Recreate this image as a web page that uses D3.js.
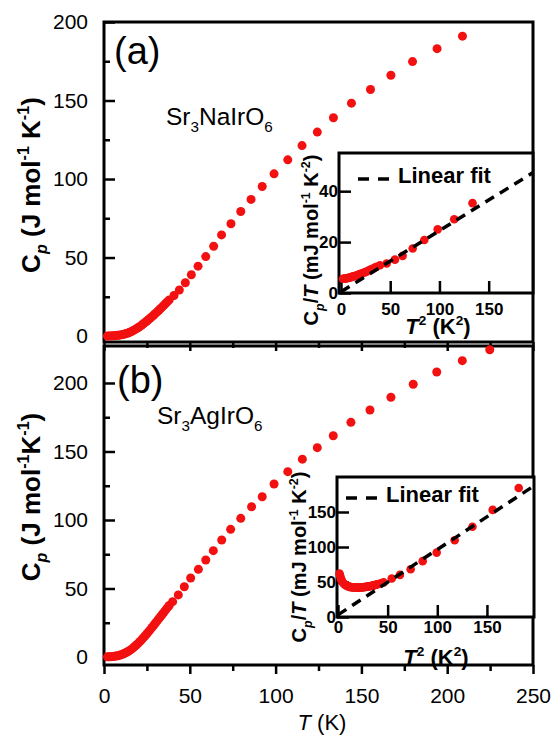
<!DOCTYPE html>
<html>
<head>
<meta charset="utf-8">
<script src="https://cdn.jsdelivr.net/npm/d3@7"></script>
<style>
body { margin: 0; background: #fff; }
svg { display: block; font-family: "Liberation Sans", Arial, sans-serif; }
text { white-space: pre; }
</style>
</head>
<body>
<div id="chart"></div>
<script>
// (a) Sr3NaIrO6: Cp (J mol-1 K-1) tegen T (K)
const tempA = [2, 3, 4, 5, 6, 7, 8, 9, 10, 11, 12, 13, 14, 15, 16, 17, 18, 19, 20, 21, 22, 23, 24, 25, 26, 27, 28, 29, 30, 31, 32, 33, 34, 35, 36, 37, 38,
    40.8, 43.9, 47.4, 50.9, 54.8, 59.3, 63.9, 68.5, 74.0, 79.7, 85.7, 92.2, 99.1, 107.1, 115.4, 124.3, 133.7, 144.2, 155.3, 167.2, 179.8, 194.1, 208.9]
const cpA = [0.03, 0.06, 0.1, 0.15, 0.22, 0.3, 0.42, 0.57, 0.76, 0.98, 1.25, 1.57, 1.95, 2.4, 2.9, 3.45, 4.05, 4.7, 5.4, 6.15, 6.95, 7.8, 8.7, 9.6, 10.5, 11.45, 12.4, 13.4, 14.4, 15.4, 16.45, 17.5, 18.6, 19.7, 20.8, 21.9, 23.0,
    25.8, 29.3, 33.9, 39.0, 44.5, 50.6, 57.2, 64.4, 71.5, 79.3, 87.0, 95.2, 103.3, 112.2, 121.3, 129.9, 139.0, 148.3, 157.0, 166.1, 174.8, 183.0, 191.0]

// (b) Sr3AgIrO6
const tempB = [2, 3, 4, 5, 6, 7, 8, 9, 10, 11, 12, 13, 14, 15, 16, 17, 18, 19, 20, 21, 22, 23, 24, 25, 26, 27, 28, 29, 30, 31, 32, 33, 34, 35, 36, 37, 38,
    40.0, 43.3, 46.8, 50.5, 55.0, 59.3, 63.7, 68.6, 73.8, 79.7, 86.0, 92.2, 99.1, 107.1, 115.6, 124.3, 133.6, 143.9, 155.0, 167.2, 180.2, 193.9, 208.8, 224.8]
const cpB = [0.1, 0.15, 0.25, 0.35, 0.5, 0.7, 0.95, 1.25, 1.65, 2.1, 2.65, 3.3, 4.0, 4.8, 5.7, 6.7, 7.8, 8.9, 10.1, 11.4, 12.7, 14.1, 15.5, 17.0, 18.5, 20.0, 21.6, 23.2, 24.8, 26.4, 28.0, 29.6, 31.2, 32.8, 34.4, 36.0, 37.6,
    40.4, 45.3, 51.3, 57.7, 64.0, 70.8, 77.6, 85.4, 93.2, 101.2, 109.7, 117.0, 126.3, 135.3, 144.4, 152.8, 161.5, 171.3, 180.3, 189.6, 199.1, 208.0, 216.3, 224.3]

// insets: Cp/T (mJ mol-1 K-2) tegen T^2 (K^2)
const t2A = [2, 3, 4, 5, 6, 7, 8, 9, 10, 11, 12, 13, 14, 15, 16, 17, 18, 19, 20, 22, 24, 26, 28, 30, 32, 34, 36,
    39.6, 46.4, 54.8, 62.6, 72.8, 84.6, 98.2, 115.0, 133.6]
const cpTA = [5.6, 5.6, 5.7, 5.7, 5.8, 5.9, 6.0, 6.1, 6.2, 6.35, 6.5, 6.6, 6.7, 6.8, 6.9, 7.05, 7.2, 7.35, 7.5, 7.8, 8.1, 8.4, 8.8, 9.2, 9.5, 9.9, 10.3,
    10.9, 11.6, 13.1, 14.6, 17.5, 20.8, 25.0, 29.0, 35.3]
const fitA = [[0, 0.5], [195, 47.3]]

const t2B = [1.5, 2, 2.5, 3, 3.5, 4, 5, 6, 7, 8, 9, 10, 11, 12, 13, 14, 15, 16, 17, 18, 19, 20, 21, 22, 23, 24, 25, 26, 27, 28, 29, 30, 31, 32, 33, 34, 35, 36, 37, 38, 39, 40, 42, 44, 46,
    54.1, 62.4, 73.2, 85.3, 99.4, 117.5, 135.4, 155.8, 182.0]
const cpTB = [62, 60, 57, 54.5, 52.5, 51, 49, 47.5, 46.3, 45.3, 44.5, 43.9, 43.4, 43, 42.7, 42.5, 42.3, 42.2, 42.1, 42, 42, 42, 42, 42.1, 42.2, 42.3, 42.4, 42.6, 42.8, 43, 43.2, 43.4, 43.7, 44, 44.3, 44.6, 44.9, 45.2, 45.6, 46.0, 46.4, 46.8, 47.6, 48.5, 49.4,
    55.0, 60.2, 68.3, 79.8, 92.0, 109.7, 129.0, 153.0, 184.3]
const fitB = [[0, 3], [197, 187]]

// ticks
const xTicksMain = [0, 50, 100, 150, 200, 250]
const xMinorMain = [25, 75, 125, 175, 225]
const yTicksMain = [0, 50, 100, 150, 200]
const yMinorMain = [25, 75, 125, 175]
const xTicksInset = [0, 50, 100, 150]
const yTicksInsetA = [0, 20, 40]
const yTicksInsetB = [0, 50, 100, 150]

const width = 552
const height = 740
const red = '#f21010'

const svg = d3.select('#chart').append('svg')
    .attr('width', width)
    .attr('height', height)

// tekst met sub/superscript
function richText(t, parts, size) {
    let shift = 0
    parts.forEach(p => {
        const target = p.sup ? -0.42 * size : p.sub ? 0.28 * size : 0
        const ts = t.append('tspan').attr('dy', target - shift).text(p.t)
        if (p.sup || p.sub) ts.attr('font-size', size * 0.62)
        if (p.it) ts.attr('font-style', 'italic')
        shift = target
    })
    return t
}

const xScale = d3.scaleLinear().domain([0, 250]).range([104, 533])

function styleAxis(g, bold, size) {
    g.select('.domain').remove()
    g.selectAll('line').attr('stroke', '#000').attr('stroke-width', 2.5)
    g.selectAll('text').attr('fill', '#000').attr('font-size', size)
        .attr('font-family', '"Liberation Sans", Arial, sans-serif')
        .attr('font-weight', bold ? 'bold' : 'normal')
}

function drawPanel(p) {
    const yScale = d3.scaleLinear().domain(p.yDomain).range([p.bottom, p.top])
    const g = svg.append('g')

    g.append('rect')
        .attr('x', xScale.range()[0]).attr('y', p.top)
        .attr('width', xScale.range()[1] - xScale.range()[0])
        .attr('height', p.bottom - p.top)
        .attr('fill', 'none').attr('stroke', '#000').attr('stroke-width', 3)

    // y as, ticks naar binnen
    g.append('g').attr('transform', `translate(${xScale.range()[0]},0)`)
        .call(d3.axisLeft(yScale).tickValues(yTicksMain).tickSize(-11).tickPadding(16))
        .call(a => styleAxis(a, false, 21))
    g.append('g').attr('transform', `translate(${xScale.range()[0]},0)`)
        .call(d3.axisLeft(yScale).tickValues(yMinorMain).tickSize(-6).tickFormat(''))
        .call(a => styleAxis(a, false, 21))

    // x as, ticks naar buiten
    const xAxis = d3.axisBottom(xScale).tickValues(xTicksMain).tickSize(9).tickPadding(14)
    if (!p.xLabels) xAxis.tickFormat('')
    g.append('g').attr('transform', `translate(0,${p.bottom})`)
        .call(xAxis)
        .call(a => styleAxis(a, false, 21))
    g.append('g').attr('transform', `translate(0,${p.bottom})`)
        .call(d3.axisBottom(xScale).tickValues(xMinorMain).tickSize(6).tickFormat(''))
        .call(a => styleAxis(a, false, 21))

    // punten
    g.append('g').selectAll('circle')
        .data(p.xs.map((x, i) => [x, p.ys[i]]))
        .enter()
        .append('circle')
        .attr('cx', d => xScale(d[0]))
        .attr('cy', d => yScale(d[1]))
        .attr('r', 4.5)
        .attr('fill', red)

    // y label
    richText(g.append('text')
        .attr('transform', `translate(40,${p.yLabelY}) rotate(-90)`)
        .attr('text-anchor', 'middle')
        .attr('font-size', 26).attr('font-weight', 'bold'), p.yLabel, 26)

    g.append('text').attr('x', p.letterX).attr('y', p.letterY)
        .attr('font-size', 38).text(p.letter)

    richText(g.append('text').attr('x', p.nameX).attr('y', p.nameY)
        .attr('font-size', 24.5), p.name, 24.5)

    drawInset(p.inset)
}

function drawInset(s) {
    const x = d3.scaleLinear().domain(s.xDomain).range([s.left, s.right])
    const y = d3.scaleLinear().domain(s.yDomain).range([s.bottom, s.top])
    const g = svg.append('g')

    g.append('rect')
        .attr('x', s.left).attr('y', s.top)
        .attr('width', s.right - s.left).attr('height', s.bottom - s.top)
        .attr('fill', '#fff').attr('stroke', '#000').attr('stroke-width', 3)

    g.append('g').attr('transform', `translate(0,${s.bottom})`)
        .call(d3.axisBottom(x).tickValues(xTicksInset).tickSize(-12).tickPadding(s.xPad))
        .call(a => styleAxis(a, true, 17))
    g.append('g').attr('transform', `translate(${s.left},0)`)
        .call(d3.axisLeft(y).tickValues(s.yTicks).tickSize(-12).tickPadding(1))
        .call(a => styleAxis(a, true, 17))

    g.append('g').selectAll('circle')
        .data(s.xs.map((v, i) => [v, s.ys[i]]))
        .enter()
        .append('circle')
        .attr('cx', d => x(d[0]))
        .attr('cy', d => y(d[1]))
        .attr('r', 4.3)
        .attr('fill', red)

    g.append('path')
        .attr('d', d3.line().x(d => x(d[0])).y(d => y(d[1]))(s.fit))
        .attr('fill', 'none').attr('stroke', '#000')
        .attr('stroke-width', 3.5).attr('stroke-dasharray', '10,7')

    // legenda
    g.append('line')
        .attr('x1', s.legX).attr('x2', s.legX + 33)
        .attr('y1', s.legY - 4).attr('y2', s.legY - 4)
        .attr('stroke', '#000').attr('stroke-width', 3.5).attr('stroke-dasharray', '11,9')
    g.append('text').attr('x', s.legX + 40).attr('y', s.legY)
        .attr('font-size', 22).attr('font-weight', 'bold').text('Linear fit')

    richText(g.append('text')
        .attr('transform', `translate(${s.yLabelX},${s.yLabelY}) rotate(-90)`)
        .attr('text-anchor', 'middle')
        .attr('font-size', 20).attr('font-weight', 'bold'),
        [{ t: 'C' }, { t: 'p', sub: true, it: true }, { t: '/' }, { t: 'T', it: true },
         { t: ' (mJ mol' }, { t: '-1', sup: true }, { t: ' K' }, { t: '-2', sup: true }, { t: ')' }], 20)

    richText(g.append('text')
        .attr('x', s.xLabelX).attr('y', s.xLabelY)
        .attr('text-anchor', 'middle')
        .attr('font-size', 22).attr('font-weight', 'bold'),
        [{ t: 'T', it: true }, { t: '2', sup: true }, { t: ' (K' }, { t: '2', sup: true }, { t: ')' }], 22)
}

drawPanel({
    top: 22, bottom: 342, yDomain: [-3.8, 200], xLabels: false,
    xs: tempA, ys: cpA, yLabelY: 185,
    yLabel: [{ t: 'C' }, { t: 'p', sub: true, it: true }, { t: ' (J mol' }, { t: '-1', sup: true }, { t: ' K' }, { t: '-1', sup: true }, { t: ')' }],
    letter: '(a)', letterX: 114, letterY: 64,
    name: [{ t: 'Sr' }, { t: '3', sub: true }, { t: 'NaIrO' }, { t: '6', sub: true }], nameX: 166, nameY: 125,
    inset: {
        left: 339, right: 533, top: 153, bottom: 293,
        xDomain: [-2, 195], yDomain: [0, 55], yTicks: yTicksInsetA, xPad: 10,
        xs: t2A, ys: cpTA, fit: fitA,
        legX: 358, legY: 183,
        yLabelX: 318, yLabelY: 240, xLabelX: 438, xLabelY: 334
    }
})

drawPanel({
    top: 346, bottom: 665, yDomain: [-5.84, 227], xLabels: true,
    xs: tempB, ys: cpB, yLabelY: 497,
    yLabel: [{ t: 'C' }, { t: 'p', sub: true, it: true }, { t: ' (J mol' }, { t: '-1', sup: true }, { t: 'K' }, { t: '-1', sup: true }, { t: ')' }],
    letter: '(b)', letterX: 117, letterY: 393,
    name: [{ t: 'Sr' }, { t: '3', sub: true }, { t: 'AgIrO' }, { t: '6', sub: true }], nameX: 157, nameY: 424,
    inset: {
        left: 337, right: 534, top: 477, bottom: 617,
        xDomain: [-1, 197.4], yDomain: [0, 200], yTicks: yTicksInsetB, xPad: 4,
        xs: t2B, ys: cpTB, fit: fitB,
        legX: 346, legY: 502,
        yLabelX: 306, yLabelY: 557, xLabelX: 436, xLabelY: 665
    }
})

// x label onderaan
richText(svg.append('text')
    .attr('x', 322).attr('y', 730)
    .attr('text-anchor', 'middle')
    .attr('font-size', 22), [{ t: 'T', it: true }, { t: ' (K)' }], 22)
</script>
</body>
</html>
